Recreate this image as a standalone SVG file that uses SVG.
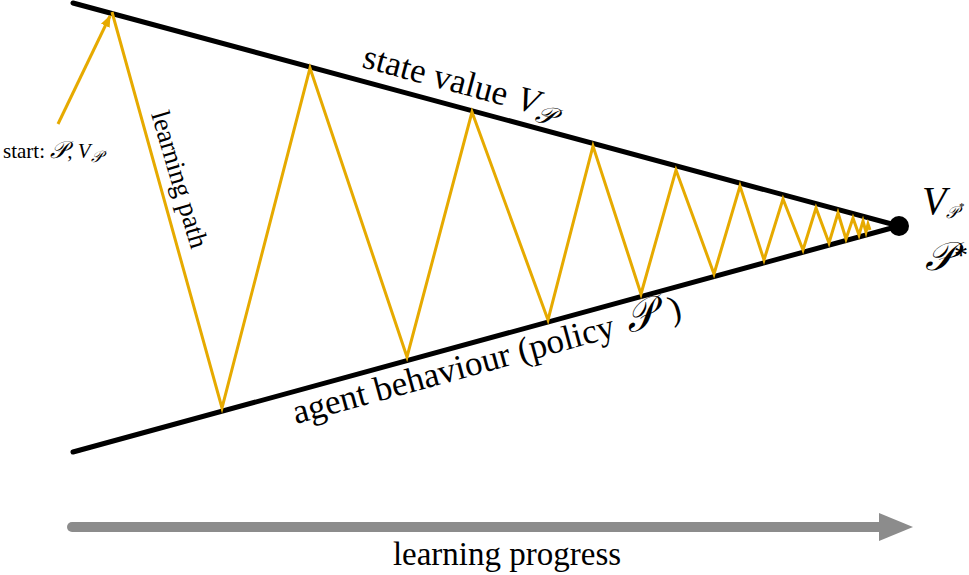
<svg xmlns="http://www.w3.org/2000/svg" width="969" height="575" viewBox="0 0 969 575">
<style>
.t{font-family:"Liberation Serif","DejaVu Serif",serif;fill:#000}
.i{font-style:italic}
.bound{stroke:#000;stroke-width:5;stroke-linecap:round;fill:none}
.path{stroke:#E6AA00;stroke-width:3;fill:none;stroke-linejoin:miter}
</style>
<defs>
<marker id="oh" viewBox="0 0 10 10" refX="9" refY="5" markerWidth="4" markerHeight="4" orient="auto" markerUnits="strokeWidth">
<path d="M0,1 L10,5 L0,9 z" fill="#E6AA00"/>
</marker>
</defs>
<g id="connectors">
<line id="upper-bound" class="bound" x1="73" y1="3" x2="899" y2="226"/>
<line id="lower-bound" class="bound" x1="73" y1="452" x2="899" y2="226"/>
<polyline id="learning-path" class="path" points="112,12 222,408 310,68 407,357 472,112 548,320 593,146 641,294 676,170 714,274 740,186 764,260 783,199 803,250 816,208 829,243 838,213 846,239 853,218 859,235 863,221 866,232 868,224 870,230"/>
<line id="start-arrow" class="path" x1="58" y1="124" x2="110" y2="16" marker-end="url(#oh)"/>
<g id="progress-arrow" fill="#8C8C8C">
<line x1="72" y1="527" x2="884" y2="527" stroke="#8C8C8C" stroke-width="10" stroke-linecap="round"/>
<polygon points="879,513 913,527 879,541"/>
</g>
</g>
<g id="optimum">
<circle cx="899" cy="226" r="10" fill="#000"/>
<text class="t i" x="922" y="214" font-size="40">V<tspan font-size="17" dy="4">𝒫</tspan><tspan font-size="11" dy="-8">*</tspan></text>
<text class="t i" x="925" y="270" font-size="40">𝒫<tspan font-style="normal" font-size="28" dy="-6">*</tspan></text>
</g>
<g id="start-label">
<text class="t" x="3" y="158" font-size="21">start: <tspan class="i" font-size="24">𝒫</tspan>, <tspan class="i">V</tspan><tspan class="i" font-size="16" dy="4">𝒫</tspan></text>
</g>
<g id="path-label">
<text class="t" transform="translate(151,114) rotate(73.5)" font-size="27">learning path</text>
</g>
<g id="state-label">
<text class="t" transform="translate(361,67) rotate(15.1)" font-size="35">state value <tspan class="i" dx="2">V</tspan><tspan class="i" font-size="26" dy="7">𝒫</tspan></text>
</g>
<g id="behaviour-label">
<text class="t" transform="translate(296,424) rotate(-15.3)" font-size="35">agent behaviour (policy <tspan class="i" font-size="42" dx="4">𝒫</tspan> <tspan dx="6">)</tspan></text>
</g>
<g id="progress-label">
<text class="t" x="507" y="565" font-size="33" text-anchor="middle">learning progress</text>
</g>
</svg>
